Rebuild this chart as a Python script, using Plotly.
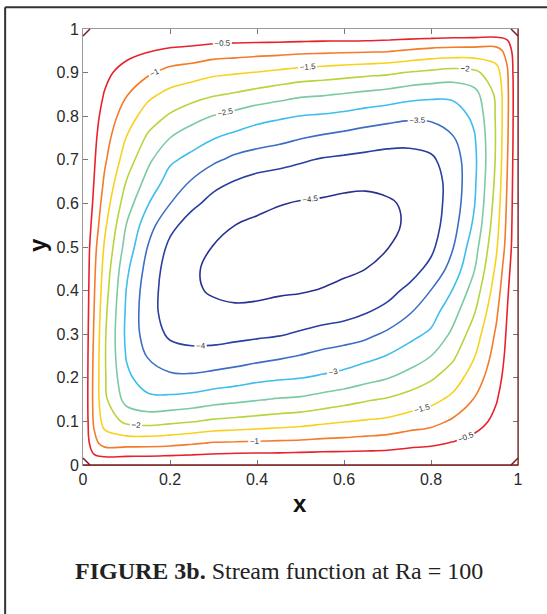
import plotly.graph_objects as go

# grid positions (x and y share the same nodes)
x_nodes = [0, 0.025, 0.05, 0.1, 0.15, 0.2, 0.25, 0.3, 0.35, 0.4, 0.45, 0.5,
           0.55, 0.6, 0.65, 0.7, 0.75, 0.8, 0.85, 0.9, 0.95, 0.975, 1]
y_nodes = [0, 0.025, 0.05, 0.1, 0.15, 0.2, 0.25, 0.3, 0.35, 0.4, 0.45, 0.5,
           0.55, 0.6, 0.65, 0.7, 0.75, 0.8, 0.85, 0.9, 0.95, 0.975, 1]

# stream function values (rows = y_nodes, columns = x_nodes)
psi = [
 [0]*23,
 [0,-0.50,-0.66,-0.63,-0.62,-0.58,-0.54,-0.49,-0.46,-0.45,-0.45,-0.43,-0.41,-0.40,-0.39,-0.37,-0.32,-0.29,-0.24,-0.18,-0.10,-0.05,0],
 [0,-0.85,-1.19,-1.19,-1.18,-1.14,-1.05,-0.96,-0.94,-0.92,-0.90,-0.88,-0.84,-0.82,-0.78,-0.74,-0.64,-0.58,-0.47,-0.35,-0.21,-0.11,0],
 [0,-1.07,-1.70,-2.11,-2.19,-2.11,-2.03,-1.92,-1.87,-1.81,-1.75,-1.69,-1.60,-1.52,-1.46,-1.40,-1.27,-1.16,-0.93,-0.68,-0.39,-0.20,0],
 [0,-1.13,-1.91,-2.67,-2.89,-2.88,-2.81,-2.69,-2.61,-2.53,-2.46,-2.42,-2.30,-2.18,-2.05,-1.95,-1.80,-1.64,-1.38,-0.97,-0.53,-0.27,0],
 [0,-1.12,-1.95,-2.89,-3.27,-3.40,-3.41,-3.33,-3.24,-3.13,-3.06,-3.01,-2.93,-2.84,-2.67,-2.52,-2.31,-2.06,-1.75,-1.25,-0.67,-0.33,0],
 [0,-1.09,-1.96,-3.04,-3.54,-3.79,-3.85,-3.83,-3.76,-3.67,-3.58,-3.48,-3.36,-3.26,-3.14,-2.98,-2.78,-2.50,-2.09,-1.52,-0.80,-0.39,0],
 [0,-1.04,-1.94,-3.11,-3.75,-4.08,-4.17,-4.17,-4.13,-4.09,-4.04,-3.94,-3.83,-3.75,-3.62,-3.41,-3.14,-2.92,-2.40,-1.75,-0.93,-0.44,0],
 [0,-0.99,-1.88,-3.08,-3.82,-4.21,-4.38,-4.43,-4.43,-4.40,-4.36,-4.30,-4.23,-4.16,-4.02,-3.86,-3.54,-3.20,-2.68,-2.02,-1.08,-0.50,0],
 [0,-0.94,-1.79,-3.02,-3.79,-4.24,-4.46,-4.53,-4.59,-4.59,-4.55,-4.53,-4.48,-4.41,-4.30,-4.15,-3.89,-3.49,-2.98,-2.27,-1.25,-0.57,0],
 [0,-0.89,-1.69,-2.90,-3.69,-4.23,-4.46,-4.56,-4.63,-4.67,-4.68,-4.68,-4.63,-4.57,-4.50,-4.39,-4.21,-3.87,-3.31,-2.52,-1.41,-0.68,0],
 [0,-0.82,-1.57,-2.70,-3.53,-4.11,-4.39,-4.51,-4.60,-4.66,-4.71,-4.75,-4.71,-4.66,-4.60,-4.51,-4.39,-4.11,-3.53,-2.70,-1.57,-0.82,0],
 [0,-0.68,-1.41,-2.52,-3.31,-3.87,-4.21,-4.39,-4.50,-4.57,-4.63,-4.68,-4.68,-4.67,-4.63,-4.56,-4.46,-4.23,-3.69,-2.90,-1.69,-0.89,0],
 [0,-0.57,-1.25,-2.27,-2.98,-3.49,-3.89,-4.15,-4.30,-4.41,-4.48,-4.53,-4.55,-4.59,-4.59,-4.53,-4.46,-4.24,-3.79,-3.02,-1.79,-0.94,0],
 [0,-0.50,-1.08,-2.02,-2.68,-3.20,-3.54,-3.86,-4.02,-4.16,-4.23,-4.30,-4.36,-4.40,-4.43,-4.43,-4.38,-4.21,-3.82,-3.08,-1.88,-0.99,0],
 [0,-0.44,-0.93,-1.75,-2.40,-2.92,-3.14,-3.41,-3.62,-3.75,-3.83,-3.94,-4.04,-4.09,-4.13,-4.17,-4.17,-4.08,-3.75,-3.11,-1.94,-1.04,0],
 [0,-0.39,-0.80,-1.52,-2.09,-2.50,-2.78,-2.98,-3.14,-3.26,-3.36,-3.48,-3.58,-3.67,-3.76,-3.83,-3.85,-3.79,-3.54,-3.04,-1.96,-1.09,0],
 [0,-0.33,-0.67,-1.25,-1.75,-2.06,-2.31,-2.52,-2.67,-2.84,-2.93,-3.01,-3.06,-3.13,-3.24,-3.33,-3.41,-3.40,-3.27,-2.89,-1.95,-1.12,0],
 [0,-0.27,-0.53,-0.97,-1.38,-1.64,-1.80,-1.95,-2.05,-2.18,-2.30,-2.42,-2.46,-2.53,-2.61,-2.69,-2.81,-2.88,-2.89,-2.67,-1.91,-1.13,0],
 [0,-0.20,-0.39,-0.68,-0.93,-1.16,-1.27,-1.40,-1.46,-1.52,-1.60,-1.69,-1.75,-1.81,-1.87,-1.92,-2.03,-2.11,-2.19,-2.11,-1.70,-1.07,0],
 [0,-0.11,-0.21,-0.35,-0.47,-0.58,-0.64,-0.74,-0.78,-0.82,-0.84,-0.88,-0.90,-0.92,-0.94,-0.96,-1.05,-1.14,-1.18,-1.19,-1.19,-0.85,0],
 [0,-0.05,-0.10,-0.18,-0.24,-0.29,-0.32,-0.37,-0.39,-0.40,-0.41,-0.43,-0.45,-0.45,-0.46,-0.49,-0.54,-0.58,-0.62,-0.63,-0.66,-0.50,0],
 [0]*23,
]

levels = [-4.5, -4.0, -3.5, -3.0, -2.5, -2.0, -1.5, -1.0, -0.5]
level_colors = ['#27318f', '#2b3f9f', '#3c6ec4', '#3fbdec', '#7ccaa3', '#b6d43b', '#f8d11e', '#f47b2a', '#e8222b']
x_ticks = [0, 0.2, 0.4, 0.6, 0.8, 1]
x_tick_text = ['0', '0.2', '0.4', '0.6', '0.8', '1']
y_ticks = [0, 0.1, 0.2, 0.3, 0.4, 0.5, 0.6, 0.7, 0.8, 0.9, 1]
y_tick_text = ['0', '0.1', '0.2', '0.3', '0.4', '0.5', '0.6', '0.7', '0.8', '0.9', '1']

n = len(levels)
cscale = [[i/(n-1), c] for i, c in enumerate(level_colors)]

fig = go.Figure(go.Contour(
    x=x_nodes, y=y_nodes, z=psi,
    autocontour=False,
    contours=dict(start=levels[0], end=levels[-1], size=0.5, coloring='lines', showlabels=True,
                  labelformat='.1~f',
                  labelfont=dict(size=8, color='#333333', family='Liberation Sans')),
    colorscale=cscale, zmin=levels[0], zmax=levels[-1], showscale=False,
    line=dict(width=1.6, smoothing=1.1), hoverinfo='skip'))

ax = dict(range=[0, 1], showgrid=False, zeroline=False, showline=True, linecolor='#9a9a9a', linewidth=1,
          mirror='allticks', ticks='inside', ticklen=5, tickcolor='#777777',
          tickfont=dict(family='Liberation Sans', size=16, color='#2a2a2a'))
fig.update_layout(width=547, height=614, autosize=False,
                  margin=dict(l=83, r=29, t=29, b=149, pad=0),
                  paper_bgcolor='white', plot_bgcolor='white', showlegend=False,
                  xaxis=dict(ax, tickvals=x_ticks, ticktext=x_tick_text),
                  yaxis=dict(ax, tickvals=y_ticks, ticktext=y_tick_text))

# zero-level boundary along bottom and right edges, and at the corners
zero_col = '#7a1a1a'
fig.add_shape(type='line', xref='paper', yref='paper', x0=0, y0=0, x1=1, y1=0,
              line=dict(color=zero_col, width=1.5))
fig.add_shape(type='line', xref='paper', yref='paper', x0=1, y0=0, x1=1, y1=1,
              line=dict(color=zero_col, width=1.2))
for (ax0, ay0, ax1, ay1) in [(0, 0.016, 0.016, 0), (0, 0.984, 0.016, 1), (0.984, 1, 1, 0.984), (0.984, 0, 1, 0.016)]:
    fig.add_shape(type='line', xref='paper', yref='paper', x0=ax0, y0=ay0, x1=ax1, y1=ay1,
                  line=dict(color=zero_col, width=1.5))

fig.add_annotation(text='<b>x</b>', x=0.499, y=-0.089, xref='paper', yref='paper', showarrow=False,
                   xanchor='center', yanchor='middle',
                   font=dict(family='Liberation Sans', size=24, color='#111111'))
fig.add_annotation(text='<b>y</b>', x=-0.103, y=0.505, xref='paper', yref='paper', showarrow=False,
                   xanchor='center', yanchor='middle', textangle=-90,
                   font=dict(family='Liberation Sans', size=24, color='#111111'))
fig.add_annotation(text='<b>FIGURE 3b.</b> Stream function at Ra = 100', x=0.4506, y=-0.243,
                   xref='paper', yref='paper', showarrow=False, xanchor='center', yanchor='middle',
                   font=dict(family='Liberation Serif', size=24, color='#222222'))
# page frame
fig.add_shape(type='line', xref='paper', yref='paper', x0=-0.179, y0=1.050, x1=-0.179, y1=-0.40,
              line=dict(color='#333333', width=2))
fig.add_shape(type='line', xref='paper', yref='paper', x0=-0.179, y0=1.050, x1=1.10, y1=1.050,
              line=dict(color='#333333', width=2))

fig.write_html('out.html', config={'displayModeBar': False},
               post_script="document.body.style.margin='0px';")
